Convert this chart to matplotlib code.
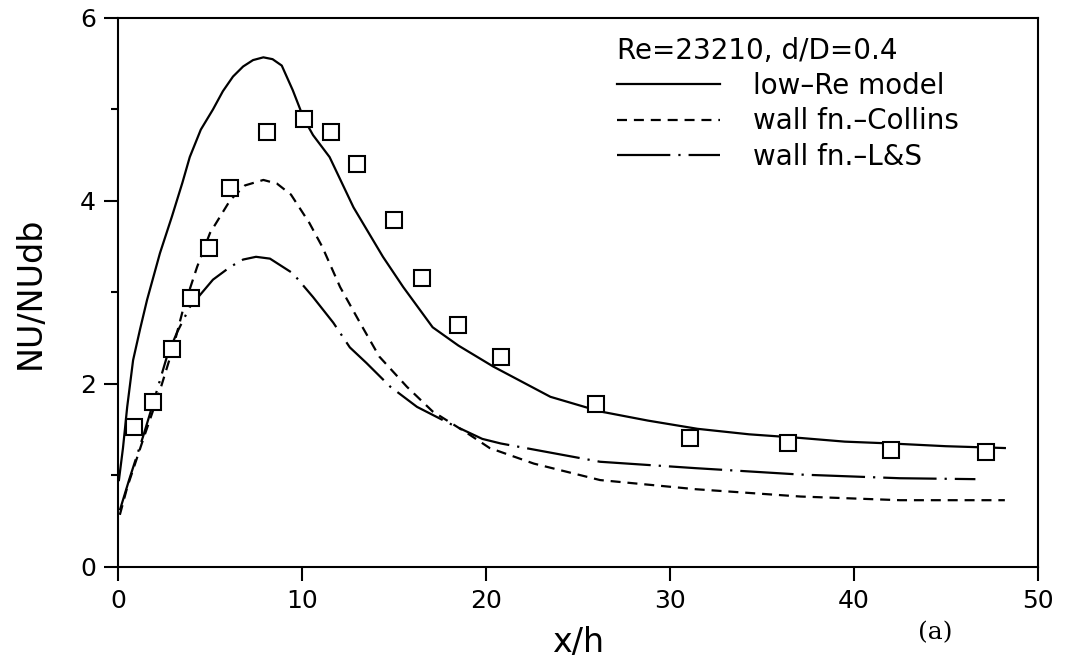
import matplotlib
matplotlib.use("Agg")
import matplotlib.pyplot as plt

# low-Re model (solid)
x_low = [0.05, 0.27, 0.5, 0.82, 1.2, 1.58, 2.28, 2.93, 3.5, 3.9, 4.5, 5.16, 5.7, 6.25,
         6.8, 7.34, 7.9, 8.4, 8.9, 9.5, 10.1, 10.6, 11.5, 12.8, 14.4, 15.5, 17.1, 18.5,
         20.4, 23.5, 26.2, 28.8, 31.5, 34.3, 37.1, 39.5, 42.0, 45.0, 48.2]
y_low = [0.95, 1.30, 1.75, 2.26, 2.60, 2.92, 3.43, 3.83, 4.20, 4.48, 4.78, 5.00, 5.20, 5.36,
         5.47, 5.54, 5.57, 5.55, 5.48, 5.21, 4.90, 4.72, 4.48, 3.93, 3.39, 3.06, 2.62, 2.42,
         2.19, 1.86, 1.70, 1.60, 1.51, 1.45, 1.41, 1.37, 1.35, 1.32, 1.30]

# wall fn. - Collins (dashed)
x_col = [0.1, 0.5, 1.36, 2.28, 3.0, 3.53, 4.3, 5.0, 6.1, 6.9, 7.9, 8.64, 9.4, 10.4, 11.1,
         12.07, 13.15, 14.2, 15.7, 17.1, 19.0, 20.2, 22.6, 26.2, 31.4, 37.1, 42.5, 48.2]
y_col = [0.57, 0.87, 1.39, 1.93, 2.40, 2.81, 3.28, 3.65, 4.01, 4.17, 4.23, 4.19, 4.07, 3.76, 3.50,
         3.06, 2.67, 2.30, 1.97, 1.70, 1.46, 1.30, 1.13, 0.95, 0.85, 0.77, 0.73, 0.73]

# wall fn. - L&S (dash-dot)
x_ls = [0.1, 0.6, 1.4, 2.0, 2.66, 3.2, 3.9, 5.16, 6.1, 6.8, 7.5, 8.26, 9.5, 10.6, 11.7, 12.6,
        13.5, 14.8, 16.25, 18.0, 19.8, 20.8, 23.5, 26.2, 31.4, 37.1, 42.5, 46.6]
y_ls = [0.62, 0.95, 1.45, 1.85, 2.30, 2.56, 2.84, 3.14, 3.28, 3.36, 3.39, 3.37, 3.21, 2.95, 2.67, 2.40,
        2.23, 1.97, 1.75, 1.57, 1.40, 1.35, 1.25, 1.15, 1.08, 1.01, 0.97, 0.96]

# experiment (squares)
x_exp = [0.85, 1.9, 2.93, 3.97, 4.95, 6.09, 8.1, 10.1, 11.6, 13.0, 15.0, 16.5, 18.5, 20.8,
         26.0, 31.1, 36.4, 42.0, 47.2]
y_exp = [1.53, 1.80, 2.38, 2.94, 3.49, 4.14, 4.75, 4.90, 4.75, 4.40, 3.79, 3.16, 2.64, 2.30,
         1.78, 1.41, 1.35, 1.28, 1.26]

plt.rcParams['font.family'] = ['DejaVu Sans']

fig = plt.figure(figsize=(10.66, 6.64), dpi=100)
ax = fig.add_axes([0.1107, 0.1461, 0.8630, 0.8268])

lw = 1.6
ax.plot(x_low, y_low, color='black', lw=lw, label='low\u2013Re model')
ax.plot(x_col, y_col, color='black', lw=lw, dashes=(4.5, 3.1), label='wall fn.\u2013Collins')
ax.plot(x_ls, y_ls, color='black', lw=lw, dashes=(24, 3.6, 1, 3.6), label='wall fn.\u2013L&S')
ax.plot(x_exp, y_exp, ls='none', marker='s', ms=11, mfc='white', mec='black', mew=1.5)

ax.set_xlim(0, 50)
ax.set_ylim(0, 6)
ax.set_xticks([0, 10, 20, 30, 40, 50])
ax.set_yticks([0, 2, 4, 6])
ax.set_yticks([1, 3, 5], minor=True)
ax.tick_params(axis='both', which='major', direction='out', length=10, width=1.5,
               labelsize=18, pad=6)
ax.tick_params(axis='y', which='minor', direction='out', length=5, width=1.5)
for s in ax.spines.values():
    s.set_linewidth(1.5)

ax.set_xlabel('x/h', fontsize=24, labelpad=9)
ax.set_ylabel('NU/NUdb', fontsize=24, labelpad=24)

leg = ax.legend(title='Re=23210, d/D=0.4', loc='upper left',
                bbox_to_anchor=((617 - 118) / 920, 1 - (37 - 18) / 549),
                frameon=False, fontsize=20, title_fontsize=20, handlelength=3.7,
                handletextpad=1.2, labelspacing=0.26, borderpad=0, borderaxespad=0,
                alignment='left')

fig.text(935 / 1066, 1 - 633 / 664, '(a)', fontsize=18, family='DejaVu Serif',
         ha='center', va='center')

fig.savefig('out.png', dpi=100)
